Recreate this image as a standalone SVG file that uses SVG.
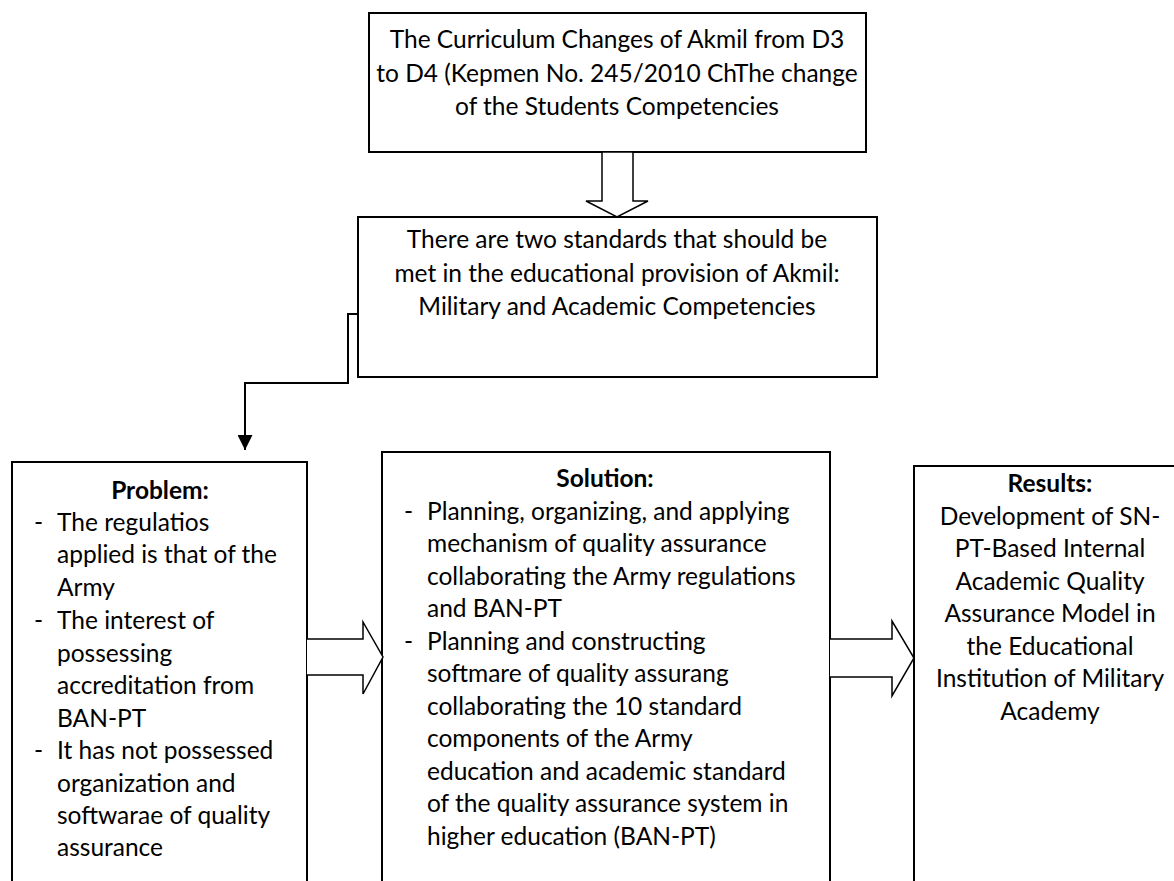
<svg xmlns="http://www.w3.org/2000/svg" width="1174" height="881" viewBox="0 0 1174 881">
<defs>
<style>
.box{fill:#fff;stroke:#000;stroke-width:2}
.t{font-family:Lato,"Liberation Sans",sans-serif;font-size:24.5px;fill:#000}
.c{text-anchor:middle}
.b{font-weight:bold}
.harrow{fill:#fff;stroke:#000;stroke-width:1.5;stroke-linejoin:miter}
.line{fill:none;stroke:#000;stroke-width:2}
</style>
<marker id="ah" markerWidth="15" markerHeight="15" refX="15" refY="7.5" orient="auto" markerUnits="userSpaceOnUse" viewBox="0 0 15 15">
<path d="M0,0 L15,7.5 L0,15 Z" fill="#000"/>
</marker>
</defs>
<rect width="1174" height="881" fill="#fff"/>
<g id="top">
<rect class="box" x="369" y="13" width="497" height="139"/>
<text class="t c" x="617" y="48">The Curriculum Changes of Akmil from D3</text>
<text class="t c" x="617" y="82">to D4 (Kepmen No. 245/2010 ChThe change</text>
<text class="t c" x="617" y="115">of the Students Competencies</text>
</g>
<g id="standards">
<rect class="box" x="358" y="217" width="519" height="160"/>
<text class="t c" x="617" y="248">There are two standards that should be</text>
<text class="t c" x="617" y="282">met in the educational provision of Akmil:</text>
<text class="t c" x="617" y="315">Military and Academic Competencies</text>
</g>
<g id="problem">
<rect class="box" x="12" y="462" width="295" height="440"/>
<text class="t c b" x="160" y="499">Problem:</text>
<g class="t">
<text x="34" y="531">-</text><text x="57" y="531">The regulatios</text>
<text x="57" y="563">applied is that of the</text>
<text x="57" y="596">Army</text>
<text x="34" y="629">-</text><text x="57" y="629">The interest of</text>
<text x="57" y="662">possessing</text>
<text x="57" y="694">accreditation from</text>
<text x="57" y="727">BAN-PT</text>
<text x="34" y="759">-</text><text x="57" y="759">It has not possessed</text>
<text x="57" y="792">organization and</text>
<text x="57" y="824">softwarae of quality</text>
<text x="57" y="856">assurance</text>
</g>
</g>
<g id="solution">
<rect class="box" x="382" y="452" width="448" height="450"/>
<text class="t c b" x="605" y="487">Solution:</text>
<g class="t">
<text x="404" y="520">-</text><text x="427" y="520">Planning, organizing, and applying</text>
<text x="427" y="552">mechanism of quality assurance</text>
<text x="427" y="585">collaborating the Army regulations</text>
<text x="427" y="617">and BAN-PT</text>
<text x="404" y="650">-</text><text x="427" y="650">Planning and constructing</text>
<text x="427" y="682">softmare of quality assurang</text>
<text x="427" y="715">collaborating the 10 standard</text>
<text x="427" y="747">components of the Army</text>
<text x="427" y="780">education and academic standard</text>
<text x="427" y="812">of the quality assurance system in</text>
<text x="427" y="845">higher education (BAN-PT)</text>
</g>
</g>
<g id="results">
<rect class="box" x="914" y="466" width="290" height="440"/>
<text class="t c b" x="1050" y="492">Results:</text>
<text class="t c" x="1050" y="525">Development of SN-</text>
<text class="t c" x="1050" y="557">PT-Based Internal</text>
<text class="t c" x="1050" y="590">Academic Quality</text>
<text class="t c" x="1050" y="622">Assurance Model in</text>
<text class="t c" x="1050" y="655">the Educational</text>
<text class="t c" x="1050" y="687">Institution of Military</text>
<text class="t c" x="1050" y="720">Academy</text>
</g>
<g id="connectors">
<path class="harrow" d="M602,152 L633,152 L633,201 L648,201 L617,217 L586,201 L602,201 Z"/>
<path class="line" d="M358,314 L348,314 L348,383 L245,383 L245,450" marker-end="url(#ah)"/>
<path class="harrow" d="M307,639 L363,639 L363,622 L383,657 L363,694 L363,675 L307,675"/>
<path class="harrow" d="M830,639 L892,639 L892,621 L914,658 L892,696 L892,677 L830,677"/>
</g>
</svg>
